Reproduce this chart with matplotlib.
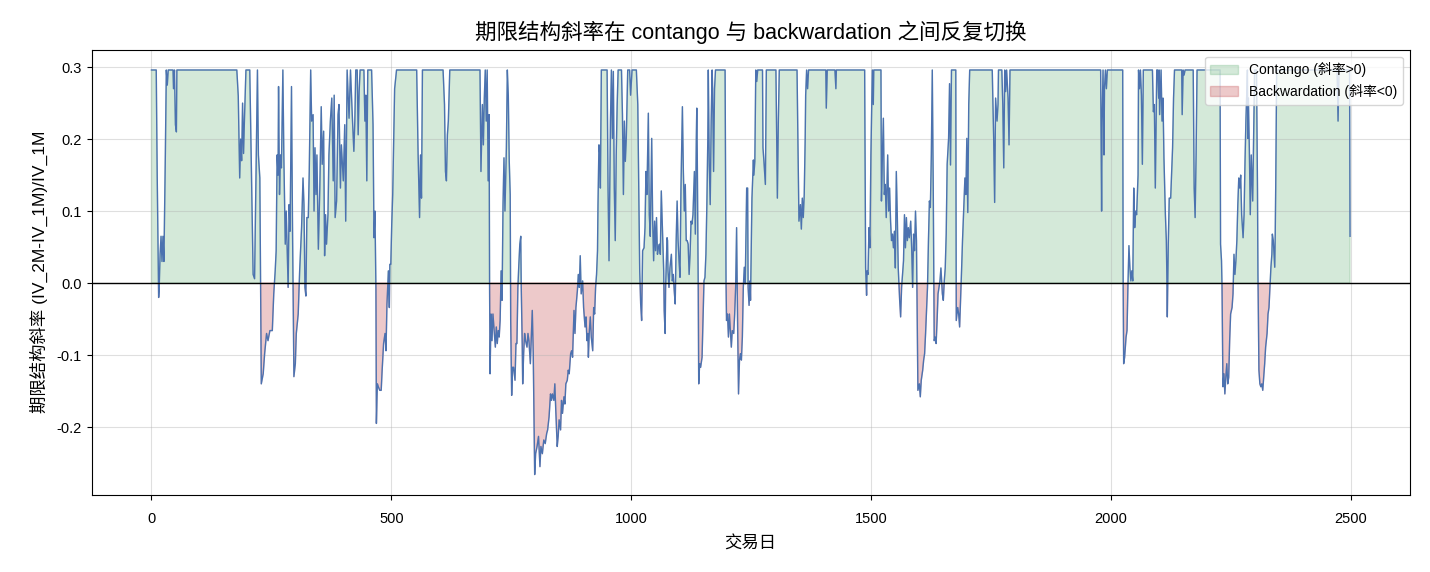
import numpy as np
import matplotlib
matplotlib.use('Agg')
import matplotlib.pyplot as plt

plt.rcParams['font.family'] = ['Liberation Sans', 'Noto Sans CJK SC']
plt.rcParams['axes.unicode_minus'] = False

# 交易日 (折线顶点, 从图上读出)
dias = [
    0, 10, 12, 15, 16, 18, 20, 22, 24, 26, 29, 31, 33, 35, 45, 46, 48, 50, 52, 53,
    178, 181, 184, 186, 188, 190, 192, 194, 197,
    205, 212, 215, 221, 223, 226, 229, 233, 236, 240, 243, 247, 252, 255, 258, 260,
    262, 264, 265, 267, 269, 271, 274, 276, 279, 281, 283, 285, 287, 289, 292, 294,
    296, 297, 300, 302, 306, 309, 313, 316, 318, 320, 322, 324, 327, 329, 332, 334,
    337, 339, 341, 343, 345, 348, 351, 354, 356, 359, 361, 363, 365, 368, 370, 373,
    376, 379, 381, 383, 386, 389, 391, 394, 396, 400, 403, 405, 408,
    412, 415, 417, 419, 422, 424, 426, 429, 431, 433, 435, 443, 445, 447, 449, 451,
    459, 462, 464, 466, 468, 469, 471, 473, 476, 479, 481, 484, 487, 489, 491, 494,
    496, 497, 499, 501, 503, 505, 507, 511, 553, 556, 559, 561, 563, 565, 608, 611,
    613, 615, 617,
    619, 622, 685, 687, 690, 692, 694, 696, 698, 700, 702, 704, 705, 706, 708, 710,
    712, 714, 717, 719, 721, 723, 725, 727, 729, 731, 733, 735, 737, 740, 742, 744,
    746, 748, 749, 751, 753, 755, 758, 760, 762, 764, 766, 768, 770, 771, 773, 774,
    776, 778, 780, 783, 785, 787, 790, 792, 794, 796, 799, 801, 804, 807, 810, 812,
    815, 818, 821, 824,
    826, 829, 832, 834, 836, 839, 841, 843, 846, 848, 850, 853, 855, 857, 860, 862,
    864, 867, 869, 871, 874, 876, 878, 881, 883, 885, 888, 890, 892, 894, 896, 899,
    901, 904, 906, 908, 910, 911, 913, 915, 917, 920, 922, 924, 926, 928, 930, 931,
    933, 935, 936, 938, 950, 952, 954, 957, 959, 961, 963, 965, 967, 969, 971, 973,
    980, 982, 984, 986, 988, 990, 993, 997, 999, 1002, 1011, 1014, 1016, 1018, 1020,
    1022, 1024, 1027, 1029, 1031, 1033, 1036,
    1038, 1040, 1043, 1045, 1047, 1049, 1051, 1053, 1055, 1057, 1059, 1061, 1063, 1066,
    1068, 1069, 1071, 1072, 1075, 1076, 1077, 1079, 1081, 1084, 1086, 1088, 1090, 1092,
    1094, 1096, 1098, 1100, 1102, 1104, 1107, 1109, 1111, 1113, 1115, 1117, 1119, 1121,
    1123, 1125, 1127, 1129, 1132, 1134, 1136, 1137, 1138, 1140, 1141, 1143, 1145, 1148,
    1150, 1152, 1154, 1156, 1158, 1160, 1161, 1163, 1165, 1167, 1169, 1170, 1172, 1174,
    1176, 1196, 1198, 1199, 1201, 1203, 1205, 1207, 1209, 1211, 1214, 1216, 1218, 1220,
    1222, 1224, 1226, 1228, 1230, 1232, 1234, 1236, 1238, 1241,
    1243, 1244, 1246, 1248, 1249, 1251, 1252, 1255, 1256, 1258, 1260, 1262, 1264, 1274,
    1275, 1277, 1280, 1282, 1302, 1305, 1307, 1309, 1346, 1348, 1350, 1353, 1355, 1357,
    1359, 1361, 1363, 1364, 1366, 1368, 1370, 1406, 1407, 1409, 1425, 1427, 1428,
    1487, 1489, 1491, 1492, 1494, 1496, 1498, 1500, 1503, 1505, 1506, 1521, 1522, 1524,
    1526, 1528, 1530, 1532, 1535, 1537, 1539, 1541, 1543, 1545, 1547, 1549, 1551, 1553,
    1555, 1557, 1560, 1562, 1564, 1566, 1568, 1570, 1572, 1574, 1576, 1578, 1580, 1583,
    1585, 1587, 1589, 1591, 1593, 1595, 1596, 1598, 1601, 1603, 1605, 1608, 1610, 1612,
    1614, 1616, 1618, 1620, 1622, 1624, 1626, 1628, 1630, 1632, 1634, 1636, 1638, 1640,
    1642, 1644, 1646, 1649, 1651, 1653, 1655, 1657, 1659,
    1662, 1664, 1666, 1668, 1677, 1678, 1681, 1683, 1685, 1687, 1689, 1691, 1694, 1696,
    1698, 1700, 1702, 1704, 1706, 1753, 1756, 1758, 1760, 1763, 1765, 1766, 1773, 1775,
    1777, 1779, 1781, 1783, 1786, 1788, 1790,
    1979, 1981, 1982, 1984, 1986, 1987, 1989, 1991, 1993, 2025, 2026, 2027, 2029, 2032,
    2034, 2036, 2038, 2040, 2042, 2044, 2046, 2048, 2050, 2052, 2054, 2057, 2058, 2060,
    2062, 2064, 2066, 2068,
    2087, 2089, 2091, 2093, 2096, 2098, 2100, 2101, 2102, 2105, 2107, 2109, 2111, 2114,
    2116, 2117, 2118, 2120, 2122, 2125, 2127, 2129, 2131, 2133, 2148, 2149, 2151, 2153,
    2155, 2172, 2174, 2176, 2178, 2180, 2228, 2229, 2231, 2232, 2234, 2236, 2238, 2240,
    2242, 2244, 2246, 2248, 2250, 2253, 2255, 2257, 2259, 2261, 2263, 2265, 2267, 2269,
    2271, 2273, 2276, 2278, 2280, 2282, 2284,
    2285, 2286, 2287, 2289, 2291, 2293, 2296, 2298, 2300, 2304, 2306, 2307, 2309, 2311,
    2313, 2315, 2317, 2319, 2321, 2323, 2326, 2328, 2330, 2332, 2334, 2336, 2337, 2339,
    2342, 2343, 2344, 2346, 2472, 2474, 2476, 2498, 2499,
]

# 期限结构斜率 (IV_2M-IV_1M)/IV_1M
pendiente = [
    0.296, 0.296, 0.15, -0.02, -0.01, 0.04, 0.065, 0.03, 0.065, 0.03, 0.18, 0.296, 0.275, 0.296, 0.296, 0.27, 0.296, 0.22, 0.21, 0.296,
    0.296, 0.26, 0.146, 0.2, 0.17, 0.25, 0.18, 0.23, 0.296,
    0.296, 0.012, 0.006, 0.296, 0.178, 0.146, -0.14, -0.126, -0.098, -0.07, -0.08, -0.066, -0.066, -0.015, 0.017, 0.045,
    0.178, 0.15, 0.273, 0.123, 0.178, 0.16, 0.296, 0.178, 0.054, 0.1, 0.045, -0.006, 0.109, 0.072, 0.273, 0.086,
    -0.052, -0.13, -0.112, -0.07, -0.043, 0.017, 0.077, 0.146, 0.109, -0.006, -0.018, 0.091, 0.091, 0.155, 0.296, 0.225,
    0.234, 0.1, 0.188, 0.123, 0.178, 0.047, 0.132, 0.245, 0.165, 0.211, 0.038, 0.095, 0.054, 0.095, 0.178, 0.225,
    0.257, 0.142, 0.261, 0.091, 0.114, 0.234, 0.248, 0.132, 0.192, 0.142, 0.22, 0.086, 0.296,
    0.229, 0.296, 0.261, 0.229, 0.183, 0.225, 0.296, 0.296, 0.206, 0.266, 0.296, 0.296, 0.225, 0.261, 0.142, 0.296,
    0.296, 0.22, 0.063, 0.1, -0.006, -0.195, -0.14, -0.144, -0.149, -0.149, -0.121, -0.084, -0.07, -0.094, -0.03, 0.017,
    -0.034, 0.026, 0.026, 0.082, 0.123, 0.2, 0.27, 0.296, 0.296, 0.178, 0.091, 0.178, 0.118, 0.296, 0.296, 0.248,
    0.155, 0.142, 0.206,
    0.225, 0.296, 0.296, 0.155, 0.248, 0.192, 0.257, 0.296, 0.225, 0.296, 0.142, 0.234, -0.006, -0.126, -0.043, -0.08,
    -0.043, -0.061, -0.089, -0.061, -0.084, -0.066, -0.075, -0.052, 0.017, -0.024, 0.109, 0.174, 0.1, 0.188, 0.296, 0.261,
    0.169, 0.123, -0.052, -0.156, -0.117, -0.117, -0.135, -0.084, -0.084, -0.006, 0.026, 0.054, 0.065, -0.006, -0.084, -0.14,
    -0.098, -0.07, -0.08, -0.089, -0.07, -0.08, -0.112, -0.075, -0.038, -0.098, -0.266, -0.237, -0.227, -0.213, -0.255, -0.227,
    -0.237, -0.218, -0.223, -0.209,
    -0.204, -0.186, -0.154, -0.163, -0.154, -0.163, -0.14, -0.177, -0.227, -0.213, -0.19, -0.204, -0.163, -0.181, -0.158, -0.168,
    -0.14, -0.135, -0.121, -0.126, -0.098, -0.094, -0.103, -0.038, -0.07, -0.034, -0.011, 0.012, -0.006, 0.038, -0.015, 0.003,
    -0.034, -0.061, -0.047, -0.08, -0.07, -0.103, -0.066, -0.047, -0.075, -0.094, -0.034, -0.043, -0.006, 0.012, 0.045, 0.109,
    0.192, 0.178, 0.132, 0.296, 0.296, 0.132, 0.031, 0.225, 0.296, 0.201, 0.294, 0.132, 0.059, 0.178, 0.248, 0.296,
    0.296, 0.234, 0.123, 0.225, 0.169, 0.201, 0.296, 0.296, 0.261, 0.296, 0.296, 0.248, 0.132, 0.017, -0.029,
    -0.052, 0.045, 0.049, 0.077, 0.155, 0.123, 0.236,
    0.095, 0.065, 0.201, 0.086, 0.031, 0.086, 0.045, 0.091, 0.04, 0.049, 0.054, 0.04, 0.128, 0.059,
    0.017, -0.038, -0.07, -0.006, 0.063, 0.059, 0.017, -0.006, 0.021, 0.04, 0.003, 0.012, -0.011, -0.029,
    0.059, 0.114, 0.059, 0.031, 0.008, 0.132, 0.245, 0.155, 0.1, 0.137, 0.059, 0.059, 0.054, 0.012,
    0.04, 0.086, 0.082, 0.095, 0.155, 0.068, 0.201, 0.243, 0.178, -0.006, -0.14, -0.112, -0.117, -0.103,
    -0.052, 0.003, 0.008, 0.04, 0.109, 0.201, 0.296, 0.165, 0.109, 0.225, 0.296, 0.27, 0.155, 0.27,
    0.296, 0.296, -0.001, -0.052, -0.043, -0.075, -0.043, -0.066, -0.089, -0.066, -0.07, -0.043, -0.006, 0.077,
    -0.052, -0.154, -0.107, -0.098, -0.107, -0.075, -0.006, 0.022, -0.001, 0.132,
    0.132, -0.006, -0.031, 0.003, -0.024, 0.077, 0.118, 0.171, 0.15, 0.169, 0.296, 0.28, 0.296, 0.296,
    0.188, 0.169, 0.137, 0.296, 0.296, 0.118, 0.225, 0.296, 0.296, 0.188, 0.086, 0.109, 0.075, 0.118,
    0.091, 0.123, 0.201, 0.261, 0.296, 0.27, 0.296, 0.296, 0.243, 0.296, 0.296, 0.27, 0.296,
    0.296, 0.021, -0.017, 0.017, 0.012, 0.077, 0.049, 0.178, 0.296, 0.248, 0.296, 0.296, 0.114, 0.178,
    0.229, 0.123, 0.137, 0.091, 0.178, 0.1, 0.132, 0.086, 0.059, 0.068, 0.049, 0.072, 0.021, 0.155,
    0.095, 0.021, -0.024, -0.047, -0.006, 0.012, 0.031, 0.095, 0.049, 0.091, 0.059, 0.077, 0.063, 0.086,
    0.049, -0.006, 0.068, 0.045, 0.1, 0.059, -0.006, -0.149, -0.14, -0.158, -0.135, -0.121, -0.107, -0.098,
    -0.07, -0.038, -0.006, 0.059, 0.114, 0.105, 0.178, 0.296, 0.132, -0.08, -0.075, -0.084, -0.052, -0.015,
    -0.006, 0.003, 0.021, -0.015, -0.024, 0.003, 0.021, 0.068, 0.165,
    0.201, 0.277, 0.164, 0.296, 0.296, -0.052, -0.034, -0.043, -0.061, -0.024, 0.017, 0.059, 0.109, 0.146,
    0.123, 0.201, 0.098, 0.248, 0.296, 0.296, 0.201, 0.112, 0.257, 0.225, 0.248, 0.296, 0.296, 0.248,
    0.16, 0.296, 0.266, 0.296, 0.257, 0.192, 0.296,
    0.296, 0.1, 0.225, 0.296, 0.178, 0.27, 0.296, 0.27, 0.296, 0.296, -0.006, -0.112, -0.103, -0.075,
    -0.066, -0.001, 0.052, 0.022, 0.003, 0.017, 0.003, 0.132, 0.077, 0.1, 0.095, 0.15, 0.296, 0.27,
    0.296, 0.261, 0.165, 0.296,
    0.296, 0.238, 0.248, 0.132, 0.296, 0.296, 0.257, 0.296, 0.234, 0.296, 0.225, 0.257, 0.174, 0.095,
    0.059, 0.012, -0.047, 0.054, 0.118, 0.118, 0.155, 0.188, 0.257, 0.296, 0.296, 0.234, 0.296, 0.289,
    0.296, 0.296, 0.132, 0.091, 0.178, 0.296, 0.296, 0.054, 0.031, -0.001, -0.144, -0.126, -0.154, -0.131,
    -0.112, -0.14, -0.131, -0.08, -0.043, -0.034, -0.015, 0.04, 0.012, 0.031, 0.059, 0.109, 0.146, 0.132,
    0.15, 0.095, 0.063, 0.095, 0.169, 0.229, 0.27,
    0.296, 0.201, 0.257, 0.188, 0.095, 0.178, 0.114, 0.201, 0.296, 0.296, 0.132, 0.012, -0.121, -0.14,
    -0.144, -0.14, -0.149, -0.13, -0.112, -0.089, -0.07, -0.043, -0.034, -0.006, 0.022, 0.04, 0.068, 0.059,
    0.022, 0.068, 0.132, 0.296, 0.296, 0.225, 0.296, 0.296, 0.065,
]

x = np.array(dias)
y = np.array(pendiente)

fig, ax = plt.subplots(figsize=(14.3, 5.72), dpi=100)

ax.fill_between(x, y, 0, where=y >= 0, interpolate=True, color='#55a868', alpha=0.25,
                label='Contango (斜率>0)')
ax.fill_between(x, y, 0, where=y < 0, interpolate=True, color='#c44e52', alpha=0.3,
                label='Backwardation (斜率<0)')
ax.plot(x, y, color='#4c72b0', linewidth=1)
ax.axhline(0, color='black', linewidth=1)

ax.set_title('期限结构斜率在 contango 与 backwardation 之间反复切换', fontsize=15.5, pad=8)
ax.set_xlabel('交易日', fontsize=12.5, labelpad=7)
ax.set_ylabel('期限结构斜率 (IV_2M-IV_1M)/IV_1M', fontsize=12.5, labelpad=6)
ax.tick_params(labelsize=10.5)
ax.tick_params(axis='x', pad=9)
ax.grid(True, alpha=0.4)
ax.legend(loc='upper right', fontsize=10)

plt.subplots_adjust(left=0.064, right=0.986, top=0.913, bottom=0.135)
plt.savefig('out.png', dpi=100)
